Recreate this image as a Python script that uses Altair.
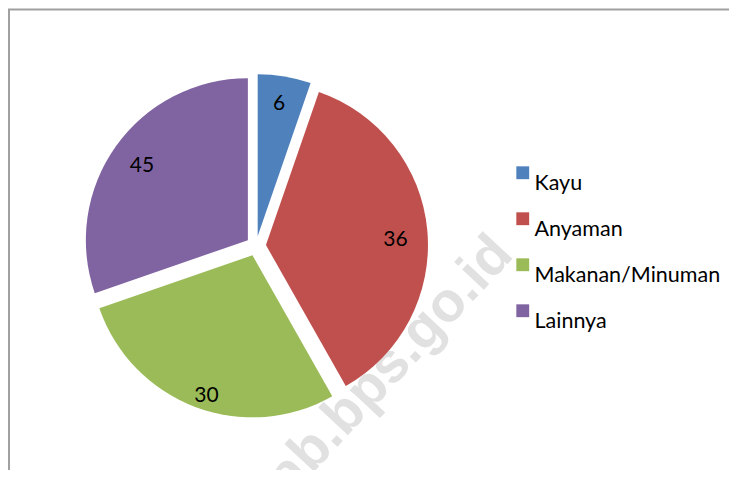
import altair as alt
import pandas as pd

# ---- data ----
categories = ["Kayu", "Anyaman", "Makanan/Minuman", "Lainnya"]
label_values = [6, 36, 30, 45]            # numbers printed on the slices
slice_shares = [5.3, 36.5, 27.9, 30.3]    # angular share of each drawn slice (%)
colors = ["#4F81BD", "#C0504D", "#9BBB59", "#8064A2"]
watermark = "kab.bps.go.id"

# ---- layout constants ----
W, H = 721, 462
CX, CY, R, EXPLODE = 248, 238, 162, 10
LABEL_RX, LABEL_RY = 140, 152

df = pd.DataFrame({
    "category": categories,
    "value": label_values,
    "share": slice_shares,
    "order": list(range(len(categories))),
})

base = (
    alt.Chart(df)
    .transform_window(cum="sum(share)", sort=[alt.SortField("order")], frame=[None, 0])
    .transform_joinaggregate(total="sum(share)")
    .transform_calculate(
        a0="2*PI*(datum.cum - datum.share)/datum.total",
        a1="2*PI*datum.cum/datum.total",
    )
    .transform_calculate(mid="(datum.a0 + datum.a1)/2")
    .transform_calculate(
        px=f"{CX} + {EXPLODE}*sin(datum.mid)",
        py=f"{CY} - {EXPLODE}*cos(datum.mid)",
        lx=f"{CX} + {LABEL_RX}*sin(datum.mid)",
        ly=f"{CY} - {LABEL_RY}*cos(datum.mid)",
    )
)

arcs = base.mark_arc(radius=R).encode(
    theta=alt.Theta("a0:Q", scale=None, stack=None),
    theta2=alt.Theta2("a1:Q"),
    x=alt.X("px:Q", scale=None),
    y=alt.Y("py:Q", scale=None),
    color=alt.Color(
        "category:N",
        scale=alt.Scale(domain=categories, range=colors),
        legend=alt.Legend(
            title=None,
            orient="none",
            legendX=504,
            legendY=154,
            symbolType="square",
            symbolSize=165,
            symbolStrokeWidth=0,
            labelFont="Lato",
            labelFontSize=21.5,
            labelColor="black",
            labelOffset=1,
            labelBaseline="top",
            rowPadding=13,
            labelLimit=400,
        ),
    ),
)

labels = base.mark_text(font="Lato", fontSize=21, color="black", dy=8).encode(
    x=alt.X("lx:Q", scale=None),
    y=alt.Y("ly:Q", scale=None),
    text=alt.Text("value:Q"),
)

wm = alt.Chart(pd.DataFrame({"t": [watermark]})).mark_text(
    angle=313, font="Liberation Sans", fontWeight="bold", fontSize=56,
    color="#e1e1e1", align="center", baseline="alphabetic",
).encode(x=alt.value(384), y=alt.value(380), text="t:N")

frame_df = pd.DataFrame({"k": [0]})
frame_top = alt.Chart(frame_df).mark_rule(color="#a0a0a0", strokeWidth=2).encode(
    x=alt.value(0), x2=alt.value(W), y=alt.value(1.5)
)
frame_left = alt.Chart(frame_df).mark_rule(color="#a0a0a0", strokeWidth=2).encode(
    x=alt.value(1), y=alt.value(1), y2=alt.value(H)
)

chart = (
    alt.layer(wm, arcs, labels, frame_top, frame_left)
    .properties(width=W, height=H, autosize=alt.AutoSizeParams(type="none"), padding=0, background="white")
    .configure_view(stroke=None)
)

chart.save("out.html", embed_options={"renderer": "svg", "actions": False})
